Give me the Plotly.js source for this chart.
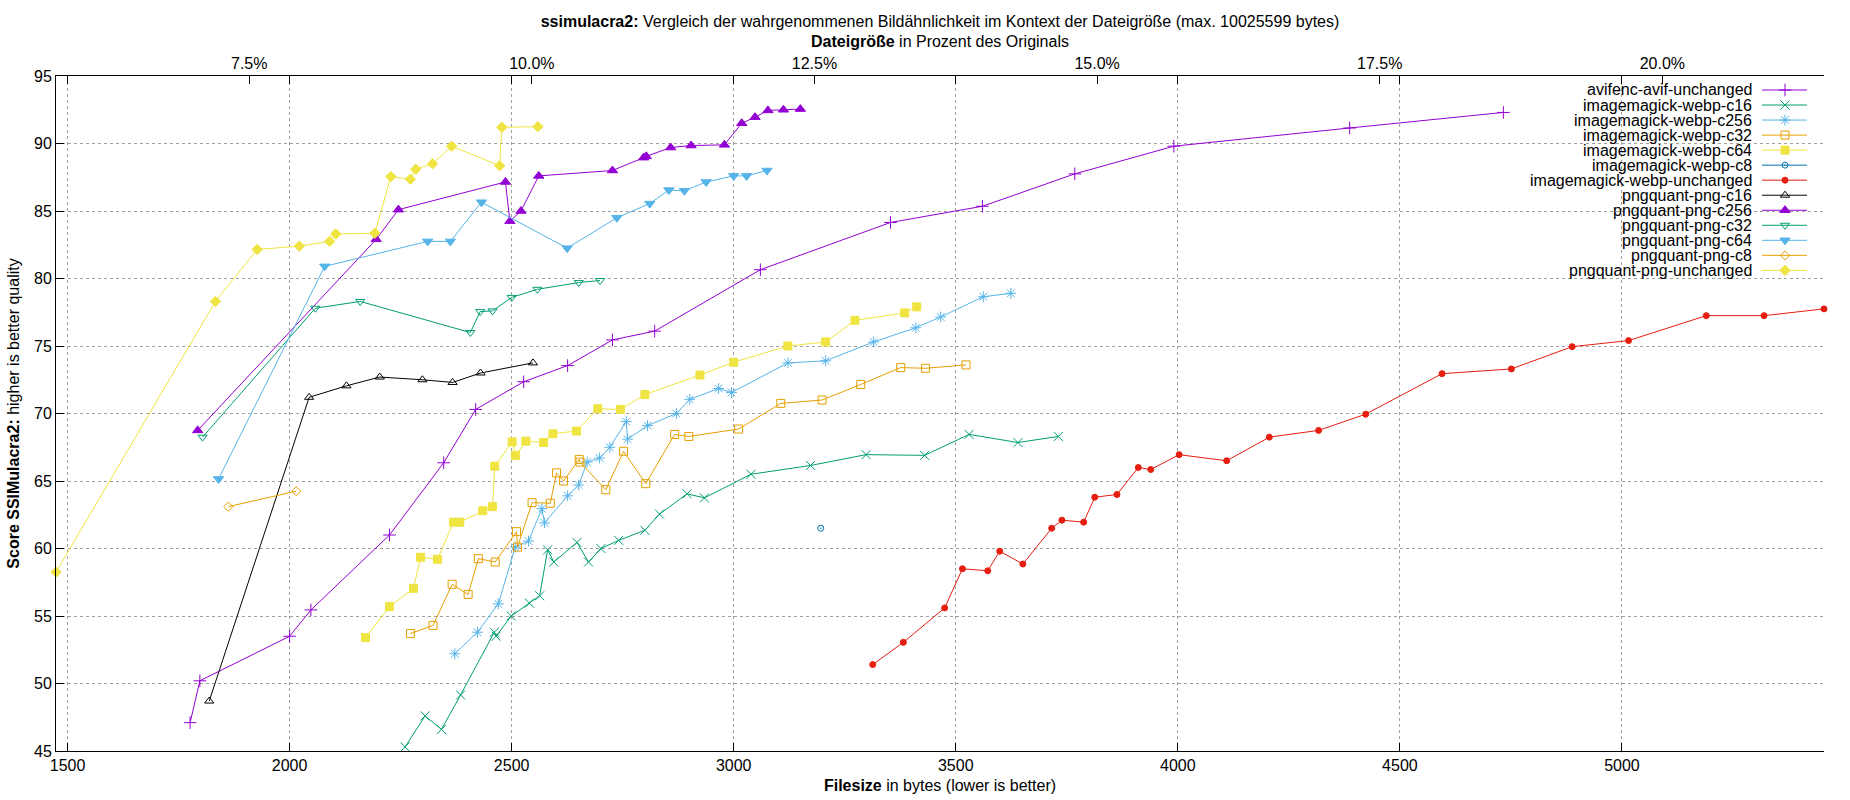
<!DOCTYPE html>
<html>
<head>
<meta charset="utf-8">
<script src="https://cdn.plot.ly/plotly-3.0.1.min.js"></script>
<style>
  html, body { margin: 0; padding: 0; background: #fff; }
  #plot { width: 1850px; height: 800px; }
</style>
</head>
<body>
<div id="plot"></div>
<script>
// file size in bytes (x) and ssimulacra2 score (y) per encoder setting
let avifUnchangedBytes = [1776, 1798, 2000, 2048, 2225, 2347, 2419, 2527, 2626, 2727, 2822, 3060, 3353, 3560, 3768, 3991, 4387, 4733];
let avifUnchangedScore = [47.1, 50.2, 53.5, 55.45, 61.0, 66.35, 70.3, 72.35, 73.55, 75.45, 76.1, 80.65, 84.15, 85.35, 87.75, 89.8, 91.15, 92.3];

let webpC16Bytes = [2260, 2305, 2342, 2385, 2461, 2465, 2499, 2540, 2563, 2581, 2595, 2647, 2673, 2701, 2741, 2800, 2833, 2895, 2934, 3039, 3173, 3298, 3430, 3530, 3640, 3731];
let webpC16Score = [45.3, 47.6, 46.6, 49.15, 53.8, 53.5, 55.0, 55.95, 56.5, 59.9, 59.0, 60.45, 59.0, 60.0, 60.6, 61.35, 62.55, 64.05, 63.75, 65.5, 66.15, 66.95, 66.9, 68.45, 67.85, 68.3];

let webpC256Bytes = [2372, 2423, 2470, 2508, 2538, 2568, 2574, 2626, 2651, 2670, 2698, 2721, 2758, 2761, 2806, 2871, 2901, 2966, 2995, 3122, 3207, 3315, 3410, 3466, 3562, 3624];
let webpC256Score = [52.2, 53.8, 55.9, 60.1, 60.55, 62.95, 61.9, 63.9, 64.7, 66.4, 66.7, 67.5, 69.4, 68.1, 69.1, 70.0, 71.05, 71.85, 71.55, 73.75, 73.9, 75.3, 76.35, 77.15, 78.65, 78.9];

let webpC32Bytes = [2272, 2323, 2366, 2402, 2425, 2463, 2511, 2513, 2546, 2587, 2601, 2617, 2652, 2654, 2712, 2752, 2802, 2867, 2899, 3011, 3106, 3199, 3286, 3376, 3432, 3523];
let webpC32Score = [53.7, 54.3, 57.35, 56.6, 59.25, 59.0, 61.25, 60.1, 63.4, 63.35, 65.6, 65.0, 66.6, 66.4, 64.35, 67.2, 64.8, 68.45, 68.3, 68.85, 70.75, 71.0, 72.15, 73.4, 73.35, 73.6];

let webpC64Bytes = [2171, 2225, 2279, 2295, 2333, 2369, 2383, 2435, 2457, 2462, 2501, 2509, 2532, 2572, 2593, 2646, 2694, 2745, 2800, 2924, 3000, 3122, 3207, 3273, 3385, 3412];
let webpC64Score = [53.4, 55.7, 57.05, 59.35, 59.2, 61.95, 61.95, 62.8, 63.1, 66.1, 67.9, 66.9, 67.95, 67.85, 68.5, 68.7, 70.35, 70.3, 71.4, 72.85, 73.8, 75.0, 75.3, 76.9, 77.45, 77.9];

let webpC8Bytes = [3196];
let webpC8Score = [61.5];

let webpUnchangedBytes = [3313, 3382, 3475, 3515, 3572, 3599, 3651, 3716, 3739, 3788, 3813, 3863, 3911, 3939, 4003, 4110, 4206, 4317, 4423, 4595, 4751, 4888, 5015, 5190, 5320, 5455];
let webpUnchangedScore = [51.4, 53.05, 55.6, 58.5, 58.35, 59.8, 58.85, 61.5, 62.1, 61.95, 63.8, 64.0, 66.0, 65.85, 66.95, 66.5, 68.25, 68.75, 69.95, 72.95, 73.3, 74.95, 75.4, 77.25, 77.25, 77.75];

let pngC16Bytes = [1819, 2044, 2128, 2203, 2299, 2367, 2430, 2548];
let pngC16Score = [48.7, 71.2, 72.05, 72.7, 72.5, 72.3, 73.0, 73.75];

let pngC256Bytes = [1793, 2195, 2245, 2486, 2496, 2521, 2561, 2727, 2797, 2803, 2858, 2904, 2979, 3018, 3048, 3077, 3112, 3150];
let pngC256Score = [68.75, 82.9, 85.1, 87.15, 84.25, 85.0, 87.6, 88.0, 88.95, 89.05, 89.7, 89.85, 89.9, 91.5, 91.95, 92.45, 92.5, 92.55];

let pngC32Bytes = [1804, 2058, 2159, 2407, 2429, 2457, 2500, 2558, 2651, 2699];
let pngC32Score = [68.25, 77.8, 78.3, 76.0, 77.55, 77.6, 78.6, 79.2, 79.7, 79.85];

let pngC64Bytes = [1840, 2079, 2311, 2362, 2432, 2625, 2737, 2811, 2854, 2889, 2938, 3000, 3029, 3075];
let pngC64Score = [65.15, 80.9, 82.75, 82.75, 85.65, 82.25, 84.5, 85.55, 86.55, 86.5, 87.15, 87.6, 87.6, 88.0];

let pngC8Bytes = [1862, 2015];
let pngC8Score = [63.1, 64.25];

let pngUnchangedBytes = [1474, 1833, 1927, 2022, 2090, 2104, 2192, 2228, 2272, 2284, 2322, 2365, 2473, 2478, 2559];
let pngUnchangedScore = [58.25, 78.3, 82.15, 82.4, 82.75, 83.3, 83.35, 87.55, 87.35, 88.1, 88.5, 89.8, 88.35, 91.2, 91.25];

let seriesNames = ['avifenc-avif-unchanged', 'imagemagick-webp-c16', 'imagemagick-webp-c256', 'imagemagick-webp-c32',
  'imagemagick-webp-c64', 'imagemagick-webp-c8', 'imagemagick-webp-unchanged', 'pngquant-png-c16',
  'pngquant-png-c256', 'pngquant-png-c32', 'pngquant-png-c64', 'pngquant-png-c8', 'pngquant-png-unchanged'];

let originalSize = 25455; // bytes, 100% on the top axis
let percentTicks = [7.5, 10, 12.5, 15, 17.5, 20];

let font = 'Liberation Sans, Arial, sans-serif';

// plot box in pixels (page is 1850 x 800)
let box = {l: 56, r: 1824, t: 76, b: 751};
let xRange = [1474, 5455];

let series = [
  {x: avifUnchangedBytes, y: avifUnchangedScore, color: '#9400d3', symbol: 'cross-thin-open', size: 9},
  {x: webpC16Bytes, y: webpC16Score, color: '#009e73', symbol: 'x-thin-open', size: 9},
  {x: webpC256Bytes, y: webpC256Score, color: '#56b4e9', symbol: 'asterisk-open', size: 9},
  {x: webpC32Bytes, y: webpC32Score, color: '#e69f00', symbol: 'square-open', size: 8},
  {x: webpC64Bytes, y: webpC64Score, color: '#f0e442', symbol: 'square', size: 8},
  {x: webpC8Bytes, y: webpC8Score, color: '#0072b2', symbol: 'circle-open-dot', size: 6},
  {x: webpUnchangedBytes, y: webpUnchangedScore, color: '#e51e10', symbol: 'circle', size: 6},
  {x: pngC16Bytes, y: pngC16Score, color: '#000000', symbol: 'triangle-up-open', size: 8},
  {x: pngC256Bytes, y: pngC256Score, color: '#9400d3', symbol: 'triangle-up', size: 9},
  {x: pngC32Bytes, y: pngC32Score, color: '#009e73', symbol: 'triangle-down-open', size: 8},
  {x: pngC64Bytes, y: pngC64Score, color: '#56b4e9', symbol: 'triangle-down', size: 9},
  {x: pngC8Bytes, y: pngC8Score, color: '#e69f00', symbol: 'diamond-open', size: 7},
  {x: pngUnchangedBytes, y: pngUnchangedScore, color: '#f0e442', symbol: 'diamond', size: 8}
];

function paperX(px) { return (px - box.l) / (box.r - box.l); }
function paperY(py) { return (box.b - py) / (box.b - box.t); }

let data = [];
let annotations = [];

series.forEach((s, i) => {
  let marker = {symbol: s.symbol, size: s.size, color: s.color, line: {color: s.color, width: 1}};
  data.push({
    x: s.x, y: s.y, type: 'scatter', mode: 'lines+markers', name: seriesNames[i],
    line: {color: s.color, width: 1}, marker: marker, cliponaxis: false, hoverinfo: 'x+y+name'
  });

  // gnuplot style key: text right aligned, sample line with the point to its right
  let rowY = paperY(90 + 15.03 * i);
  annotations.push({
    xref: 'paper', yref: 'paper', x: paperX(1754), y: rowY, xanchor: 'right', yanchor: 'middle',
    text: seriesNames[i], showarrow: false, font: {family: font, size: 16, color: '#000'}
  });
  data.push({
    x: [paperX(1762), paperX(1785), paperX(1807)], y: [rowY, rowY, rowY],
    xaxis: 'x3', yaxis: 'y3', type: 'scatter', mode: 'lines+markers',
    line: {color: s.color, width: 1},
    marker: {symbol: s.symbol, size: [0, s.size, 0], opacity: [0, 1, 0], color: s.color, line: {color: s.color, width: 1}},
    showlegend: false, hoverinfo: 'skip', cliponaxis: false
  });
});

// empty trace so the percent axis on top is drawn
data.push({
  x: [xRange[0] / originalSize * 100, xRange[1] / originalSize * 100], y: [null, null],
  xaxis: 'x2', yaxis: 'y', type: 'scatter', mode: 'markers', showlegend: false, hoverinfo: 'skip'
});

let layout = {
  width: 1850, height: 800,
  margin: {l: box.l, r: 1850 - box.r, t: box.t, b: 800 - box.b},
  paper_bgcolor: '#fff', plot_bgcolor: '#fff',
  showlegend: false,
  font: {family: font, size: 16, color: '#000'},
  title: {
    text: '<b>ssimulacra2:</b> Vergleich der wahrgenommenen Bildähnlichkeit im Kontext der Dateigröße (max. 10025599 bytes)',
    x: 0.5, xref: 'paper', y: 1 - 21 / 800, yref: 'container', yanchor: 'middle',
    font: {family: font, size: 16, color: '#000'}
  },
  xaxis: {
    range: xRange, tickvals: [1500, 2000, 2500, 3000, 3500, 4000, 4500, 5000],
    ticks: 'inside', ticklen: 8, tickcolor: '#000', showline: true, linecolor: '#000', mirror: 'ticks',
    showgrid: true, gridcolor: '#a0a0a0', griddash: 'dot', gridwidth: 1, zeroline: false,
    tickfont: {family: font, size: 16},
    title: {text: '<b>Filesize</b> in bytes (lower is better)', standoff: 6, font: {family: font, size: 16}}
  },
  xaxis2: {
    overlaying: 'x', side: 'top', anchor: 'y',
    range: [xRange[0] / originalSize * 100, xRange[1] / originalSize * 100],
    tickvals: percentTicks, ticktext: percentTicks.map(p => p.toFixed(1) + '%'),
    ticks: 'inside', ticklen: 8, tickcolor: '#000', showline: true, linecolor: '#000',
    showgrid: false, zeroline: false, tickfont: {family: font, size: 16},
    title: {text: '<b>Dateigröße</b> in Prozent des Originals', standoff: 2, font: {family: font, size: 16}}
  },
  yaxis: {
    range: [45, 95], dtick: 5, ticks: 'inside', ticklen: 8, tickcolor: '#000',
    showline: true, linecolor: '#000', showgrid: true, gridcolor: '#a0a0a0', griddash: 'dot', gridwidth: 1,
    zeroline: false, tickfont: {family: font, size: 16},
    title: {text: '<b>Score SSIMulacra2:</b> higher is better quality', standoff: 10, font: {family: font, size: 16}}
  },
  xaxis3: {overlaying: 'x', range: [0, 1], visible: false, fixedrange: true},
  yaxis3: {overlaying: 'y', range: [0, 1], visible: false, fixedrange: true},
  shapes: [{
    type: 'rect', xref: 'paper', yref: 'paper', layer: 'between',
    x0: paperX(1517), x1: 1, y0: paperY(276), y1: paperY(box.t + 1),
    fillcolor: '#fff', line: {width: 0}
  }],
  annotations: annotations
};

Plotly.newPlot('plot', data, layout, {displayModeBar: false, staticPlot: true});
</script>
</body>
</html>
